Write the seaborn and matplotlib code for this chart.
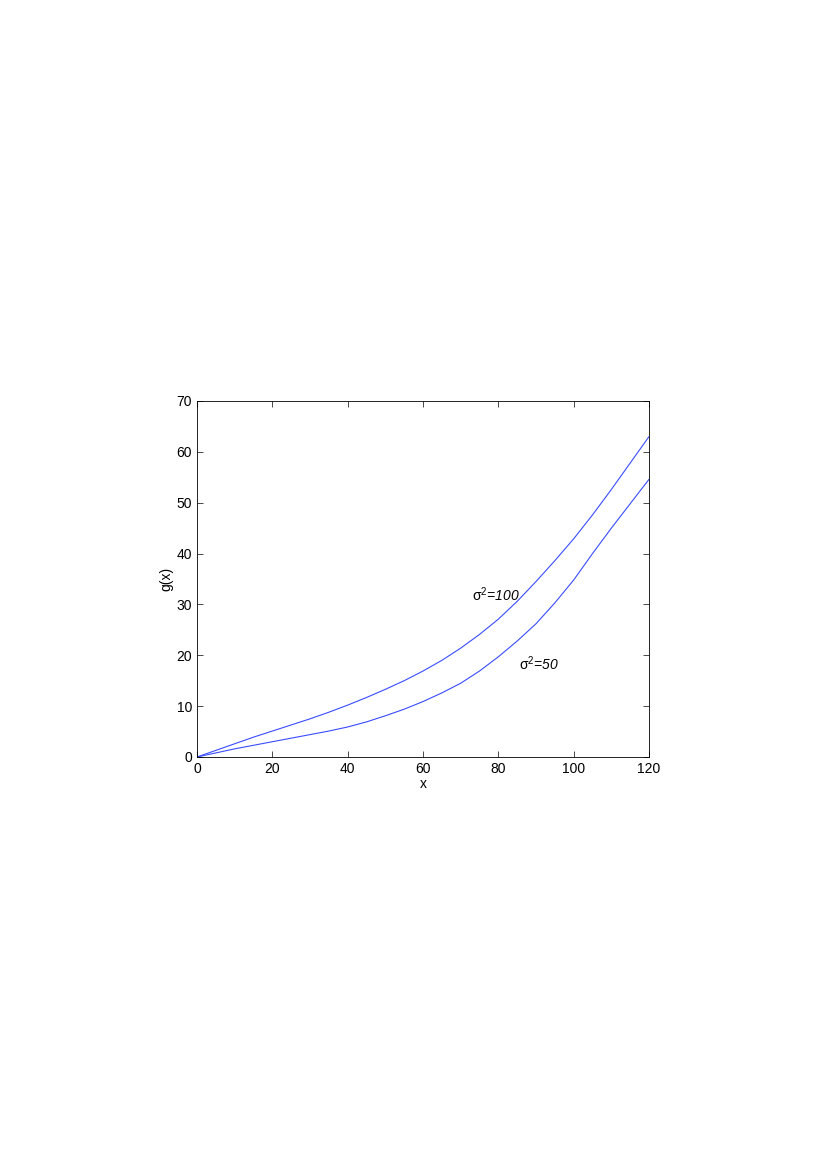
import numpy as np
import pandas as pd
import matplotlib
matplotlib.use("Agg")
import matplotlib.pyplot as plt
import seaborn as sns

# values
x_vals = [0, 5, 10, 15, 20, 25, 30, 35, 40, 45, 50, 55, 60, 65, 70, 75, 80, 85, 90, 95, 100, 105, 110, 115, 120]
g_100 = [0, 1.3, 2.6, 3.9, 5.1, 6.3, 7.5, 8.8, 10.2, 11.7, 13.3, 15.0, 16.9, 19.0, 21.4, 24.1, 27.1, 30.6, 34.5, 38.6, 42.9, 47.6, 52.6, 57.8, 63.0]
g_50 = [0, 0.8, 1.6, 2.3, 3.0, 3.7, 4.4, 5.1, 5.9, 6.9, 8.1, 9.4, 10.9, 12.6, 14.5, 16.9, 19.7, 22.8, 26.2, 30.3, 34.8, 40.0, 45.0, 49.8, 54.6]
series = ["σ²=100", "σ²=50"]

df = pd.DataFrame({
    "x": x_vals * 2,
    "g": g_100 + g_50,
    "s": [series[0]] * len(x_vals) + [series[1]] * len(x_vals),
})

sns.set_style("ticks")
plt.rcParams['font.family'] = ['Liberation Sans', 'DejaVu Sans']
plt.rcParams['text.color'] = 'black'
plt.rcParams['axes.labelcolor'] = 'black'
plt.rcParams['xtick.color'] = 'black'
plt.rcParams['ytick.color'] = 'black'
plt.rcParams['xtick.direction'] = 'in'
plt.rcParams['ytick.direction'] = 'in'
plt.rcParams['mathtext.fontset'] = 'custom'
plt.rcParams['mathtext.it'] = 'Liberation Sans:italic'
plt.rcParams['mathtext.rm'] = 'Liberation Sans'

fig = plt.figure(figsize=(8.27, 11.7), dpi=100)
ax = fig.add_axes([0.2382, 0.353, 0.5466, 0.3043])

sns.lineplot(data=df, x="x", y="g", hue="s", palette=["#3a4cff", "#3a4cff"],
             linewidth=0.8, legend=False, ax=ax)

ax.set_xlim(0, 120)
ax.set_ylim(0, 70)
ax.set_xticks(range(0, 121, 20))
ax.set_yticks(range(0, 71, 10))
ax.tick_params(labelsize=10, length=4, width=0.5, top=True, right=True)
for sp in ax.spines.values():
    sp.set_linewidth(0.6)
    sp.set_color('black')
ax.set_xlabel("x", fontsize=10, labelpad=1)
ax.set_ylabel("g(x)", fontsize=10, labelpad=2)

# curve labels
ax.text(72.9, 32, r"$\mathrm{\sigma}^{\it 2}$=100", fontsize=10, style='italic', va='center')
ax.text(85.6, 18.4, r"$\mathrm{\sigma}^{\it 2}$=50", fontsize=10, style='italic', va='center')

fig.savefig("out.png", dpi=100)
